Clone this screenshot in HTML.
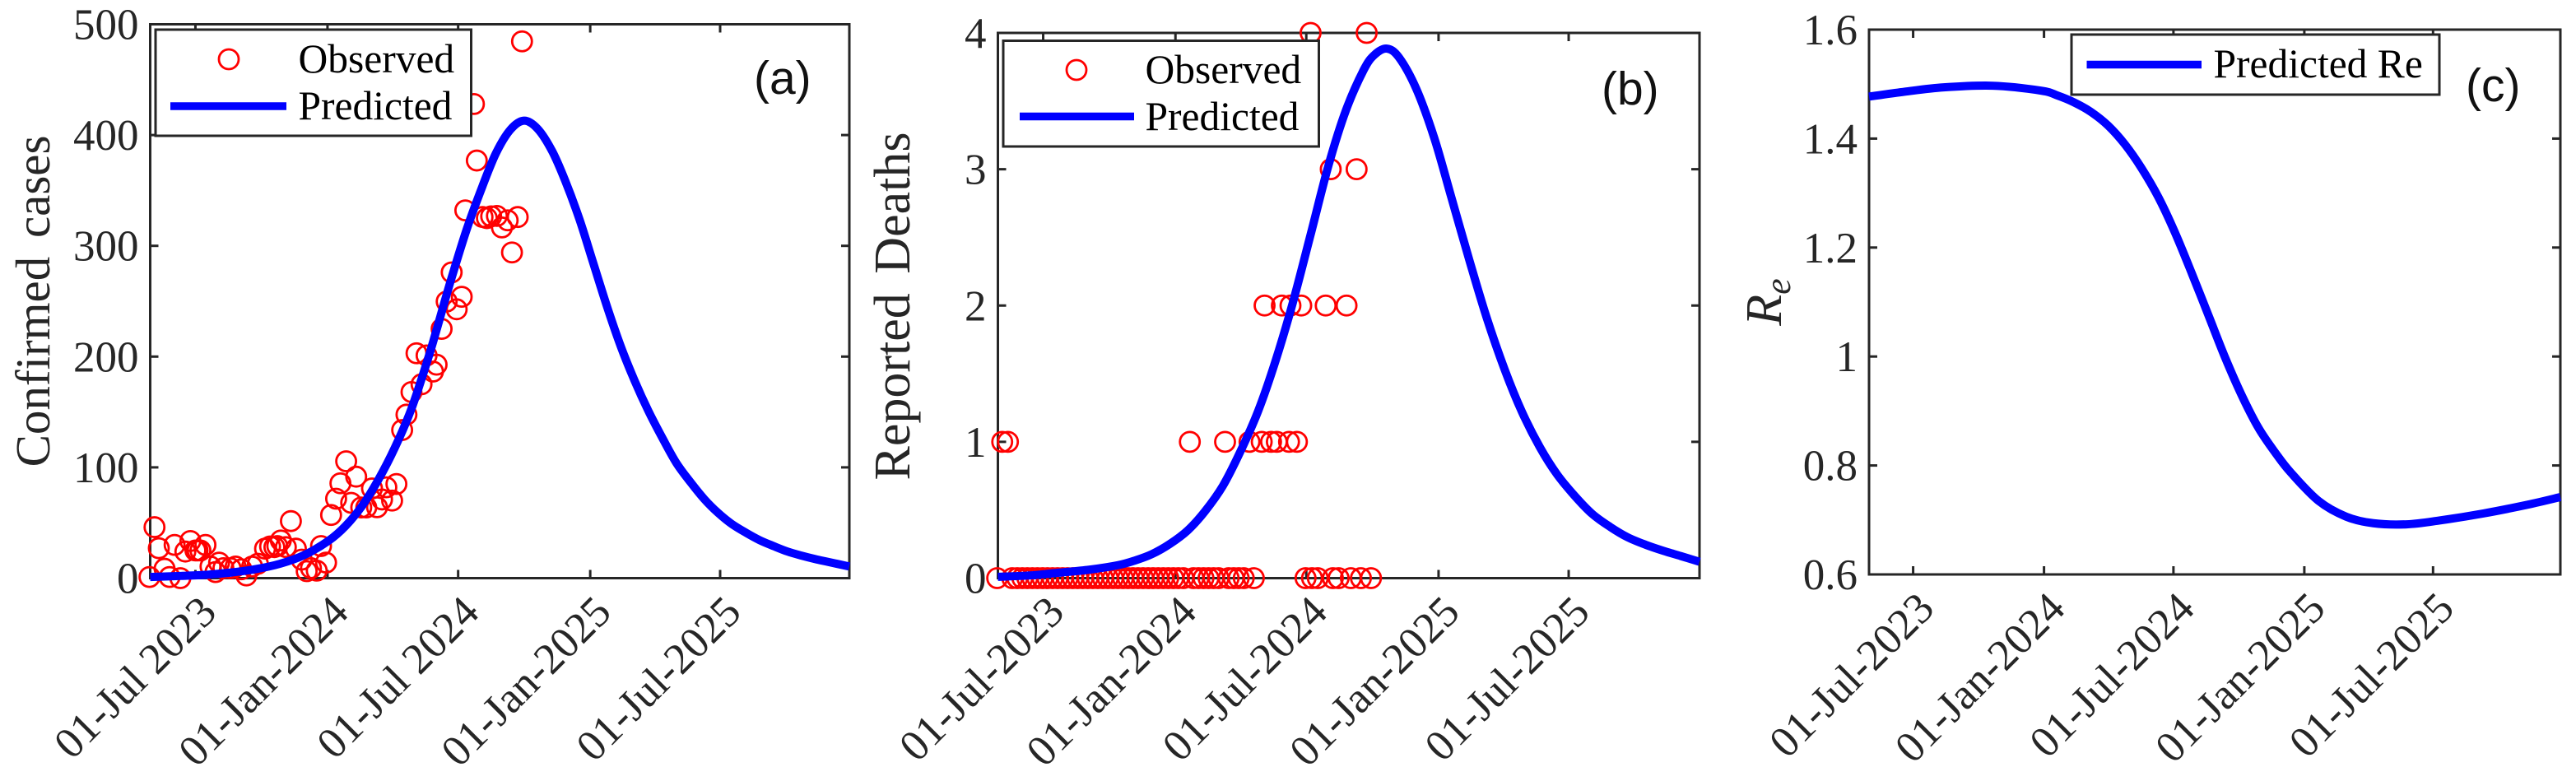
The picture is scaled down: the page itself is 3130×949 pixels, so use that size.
<!DOCTYPE html>
<html lang="en">
<head>
<meta charset="utf-8">
<title>Confirmed cases, reported deaths and effective reproduction number</title>
<style>
html,body{margin:0;padding:0;background:#fff;}
svg{display:block;}
text{font-family:"Liberation Serif",serif;fill:#262626;}
.leg{fill:#000;font-size:49.5px;}
.tag{font-family:"Liberation Sans",sans-serif;fill:#111;font-size:57px;}
.ttl{word-spacing:8px;}
</style>
</head>
<body>
<svg xmlns="http://www.w3.org/2000/svg" width="3130" height="949" viewBox="0 0 3130 949">
  <g id="panel-a"></g>
  <g id="panel-b"></g>
  <g id="panel-c"></g>

  <text class="ttl" font-size="59" transform="translate(60,366) rotate(-90)" text-anchor="middle">Confirmed cases</text>
  <text class="ttl" font-size="62" transform="translate(1105,372) rotate(-90)" text-anchor="middle">Reported Deaths</text>
  <text transform="translate(2164,367) rotate(-90)" text-anchor="middle" font-size="62" font-style="italic">R<tspan font-size="44" dy="11">e</tspan></text>

  <g>
    <rect x="189" y="36" width="383.5" height="129" fill="#fff" stroke="#262626" stroke-width="3"/>
    <circle cx="278" cy="72" r="12" fill="none" stroke="#f00" stroke-width="2.8"/>
    <line x1="207" y1="129" x2="348" y2="129" stroke="#00f" stroke-width="9.5"/>
    <text class="leg" x="362.5" y="88">Observed</text>
    <text class="leg" x="362.5" y="145">Predicted</text>
  </g>
  <g>
    <rect x="1219" y="49.5" width="383.5" height="128.5" fill="#fff" stroke="#262626" stroke-width="3"/>
    <circle cx="1308" cy="85" r="12" fill="none" stroke="#f00" stroke-width="2.8"/>
    <line x1="1239" y1="141.5" x2="1378" y2="141.5" stroke="#00f" stroke-width="9.5"/>
    <text class="leg" x="1391.5" y="101">Observed</text>
    <text class="leg" x="1391.5" y="158">Predicted</text>
  </g>
  <g>
    <rect x="2517" y="42" width="447" height="73" fill="#fff" stroke="#262626" stroke-width="3"/>
    <line x1="2535.5" y1="78.5" x2="2675" y2="78.5" stroke="#00f" stroke-width="9.5"/>
    <text class="leg" x="2689.5" y="94">Predicted Re</text>
  </g>

  <text class="tag" x="916" y="114">(a)</text>
  <text class="tag" x="1946" y="127">(b)</text>
  <text class="tag" x="2996" y="123">(c)</text>
</svg>

<script>
// All x values are days since 01-Jul-2023.
const tickDays = [0, 184, 366, 550, 731];
const tickLabelsA = ['01-Jul 2023', '01-Jan-2024', '01-Jul 2024', '01-Jan-2025', '01-Jul-2025'];
const tickLabelsB = ['01-Jul-2023', '01-Jan-2024', '01-Jul-2024', '01-Jan-2025', '01-Jul-2025'];
const tickLabelsC = ['01-Jul-2023', '01-Jan-2024', '01-Jul-2024', '01-Jan-2025', '01-Jul-2025'];

const yTicksA = [0, 100, 200, 300, 400, 500];
const yTicksB = [0, 1, 2, 3, 4];
const yTicksC = [0.6, 0.8, 1, 1.2, 1.4, 1.6];

const casesDays = [-64,-57,-51,-43,-36,-29,-21,-14,-7,0,3,7,14,21,28,33,39,49,56,64,71,79,87,97,104,110,114,119,126,133,140,148,155,161,169,175,182,189,196,202,210,217,224,231,238,246,253,260,266,274,280,288,294,301,308,315,322,331,336,343,350,357,364,371,376,388,392,400,406,412,420,427,435,441,449,455];
const casesObserved = [1,46,27,8.5,1,30,0,24,33.5,25,25,25,30,10.5,5.5,14,9,9,10.5,8,2.4,10.5,13,26.6,28.6,28,29,34,28,51.5,26.6,16.7,6.3,9,6.8,29,14,57,71.7,85.6,105.5,68,91.6,63.8,63.8,81,64,71,82,70,85,133.7,147.6,168,203,175,201,186.5,192.7,225,249.7,276,242.7,254,332,428,377,326,325,326.6,327,316.6,323,294,326,484.6];

const casesCurveDays = [-63,-20,14,49,83,118,152,186,209,232,255,278,301,324,335,355,378,400,419,439,458,477,497,515,535,554,574,593,612,631,651,670,690,709,728,747,767,786,806,825,844,863,882,911];
const casesPredicted = [1,2,3,5,8,13,21,34,47,65,89,118,153,198,222,267,315,354,384,405,413,405.5,385.5,359,324,285,244,208.5,178,151,126,104,86.4,71.3,59,49,41,34.3,28.8,24,20.4,17.3,14.6,10.5];

const deathsDays = [-64,-43,-36,-29,-22,-15,-8,-1,6,13,20,27,34,41,48,55,62,69,76,83,90,97,104,111,118,125,132,139,146,153,160,167,174,181,188,195,209,216,223,230,237,244,258,265,272,279,293,365,374,382,403,411,428,442,456,-57,-49,204,253,287,304,317,325,342,353,308,332,344,359,393,422,400,436,372,450];
const deathsObserved = [0,0,0,0,0,0,0,0,0,0,0,0,0,0,0,0,0,0,0,0,0,0,0,0,0,0,0,0,0,0,0,0,0,0,0,0,0,0,0,0,0,0,0,0,0,0,0,0,0,0,0,0,0,0,0,1,1,1,1,1,1,1,1,1,1,2,2,2,2,2,2,3,3,4,4];

const deathsCurveDays = [-63,-18,22,64,104,128,152,176,201,225,250,274,299,323,347,372,397,421,446,461,478,495,519,544,568,593,617,642,666,691,715,740,764,789,813,838,863,887,913];
const deathsPredicted = [0.01,0.02,0.04,0.062,0.095,0.13,0.178,0.25,0.35,0.49,0.677,0.925,1.225,1.59,2.016,2.52,3.03,3.43,3.73,3.84,3.885,3.82,3.59,3.23,2.79,2.33,1.91,1.53,1.22,0.96,0.76,0.6,0.47,0.375,0.3,0.245,0.2,0.162,0.12];

const reCurveDays = [-62,-12,43,112,180,203,227,250,274,298,321,345,368,392,416,439,463,486,510,531,570,609,647,694,740,802,864,910];
const rePredicted = [1.477,1.486,1.494,1.497,1.488,1.479,1.466,1.449,1.424,1.389,1.346,1.292,1.228,1.152,1.073,0.997,0.926,0.868,0.822,0.787,0.735,0.706,0.694,0.692,0.699,0.712,0.728,0.742];

const NS = 'http://www.w3.org/2000/svg';
const INK = '#262626';

function make(tag, parent, props) {
  const el = document.createElementNS(NS, tag);
  for (const k in props) el.setAttribute(k, props[k]);
  parent.appendChild(el);
  return el;
}

function smoothPath(xs, ys) {
  let d = 'M' + xs[0].toFixed(2) + ' ' + ys[0].toFixed(2);
  for (let i = 0; i < xs.length - 1; i++) {
    const i0 = Math.max(i - 1, 0), i3 = Math.min(i + 2, xs.length - 1);
    const c1x = xs[i] + (xs[i + 1] - xs[i0]) / 6, c1y = ys[i] + (ys[i + 1] - ys[i0]) / 6;
    const c2x = xs[i + 1] - (xs[i3] - xs[i]) / 6, c2y = ys[i + 1] - (ys[i3] - ys[i]) / 6;
    d += 'C' + [c1x, c1y, c2x, c2y, xs[i + 1], ys[i + 1]].map(n => n.toFixed(2)).join(' ');
  }
  return d;
}

function drawPanel(cfg) {
  const g = document.getElementById(cfg.id);
  const sx = d => cfg.left + (d - cfg.dMin) * (cfg.right - cfg.left) / (cfg.dMax - cfg.dMin);
  const sy = v => cfg.bottom - (v - cfg.vMin) * (cfg.bottom - cfg.top) / (cfg.vMax - cfg.vMin);

  const frame = make('rect', g, {x: cfg.left, y: cfg.top, width: cfg.right - cfg.left, height: cfg.bottom - cfg.top, fill: 'none', stroke: INK, 'stroke-width': 3});
  
  

  cfg.xTicks.forEach((d, i) => {
    const x = sx(d);
    const tb = make('line', g, {x1: x, x2: x, y1: cfg.bottom, y2: cfg.bottom - 10, stroke: INK, 'stroke-width': 3});
    
    
    const tt = make('line', g, {x1: x, x2: x, y1: cfg.top, y2: cfg.top + 10, stroke: INK, 'stroke-width': 3});
    
    
    const lab = make('text', g, {transform: 'translate(' + (x + 28) + ',' + (cfg.bottom + 44) + ') rotate(-45)', 'text-anchor': 'end', 'font-size': 53});
    lab.textContent = cfg.xLabels[i];
    
    
  });

  cfg.yTicks.forEach(v => {
    const y = sy(v);
    const tl = make('line', g, {x1: cfg.left, x2: cfg.left + 10, y1: y, y2: y, stroke: INK, 'stroke-width': 3});
    
    
    const tr = make('line', g, {x1: cfg.right, x2: cfg.right - 10, y1: y, y2: y, stroke: INK, 'stroke-width': 3});
    
    
    const lab = make('text', g, {x: cfg.left - 14, y: y + 18, 'text-anchor': 'end', 'font-size': 53});
    lab.textContent = String(v);
    
    
  });

  if (cfg.obsDays) {
    cfg.obsDays.forEach((d, i) => {
      const c = make('circle', g, {cx: sx(d), cy: sy(cfg.obsVals[i]), r: 12, fill: 'none', stroke: '#f00', 'stroke-width': 2.8});
      
      
    });
  }

  const curve = make('path', g, {d: smoothPath(cfg.curveDays.map(sx), cfg.curveVals.map(sy)), fill: 'none', stroke: '#00f', 'stroke-width': 10, 'stroke-linejoin': 'round'});
  
  
}

drawPanel({id: 'panel-a', left: 182.5, right: 1032, top: 29.5, bottom: 702.5, dMin: -63, dMax: 911, vMin: 0, vMax: 500,
  xTicks: tickDays, xLabels: tickLabelsA, yTicks: yTicksA, obsDays: casesDays, obsVals: casesObserved, curveDays: casesCurveDays, curveVals: casesPredicted});
drawPanel({id: 'panel-b', left: 1212.5, right: 2065, top: 40, bottom: 702.5, dMin: -63, dMax: 913, vMin: 0, vMax: 4,
  xTicks: tickDays, xLabels: tickLabelsB, yTicks: yTicksB, obsDays: deathsDays, obsVals: deathsObserved, curveDays: deathsCurveDays, curveVals: deathsPredicted});
drawPanel({id: 'panel-c', left: 2271, right: 3111, top: 36, bottom: 698, dMin: -62, dMax: 910, vMin: 0.6, vMax: 1.6,
  xTicks: tickDays, xLabels: tickLabelsC, yTicks: yTicksC, curveDays: reCurveDays, curveVals: rePredicted});
</script>
</body>
</html>
